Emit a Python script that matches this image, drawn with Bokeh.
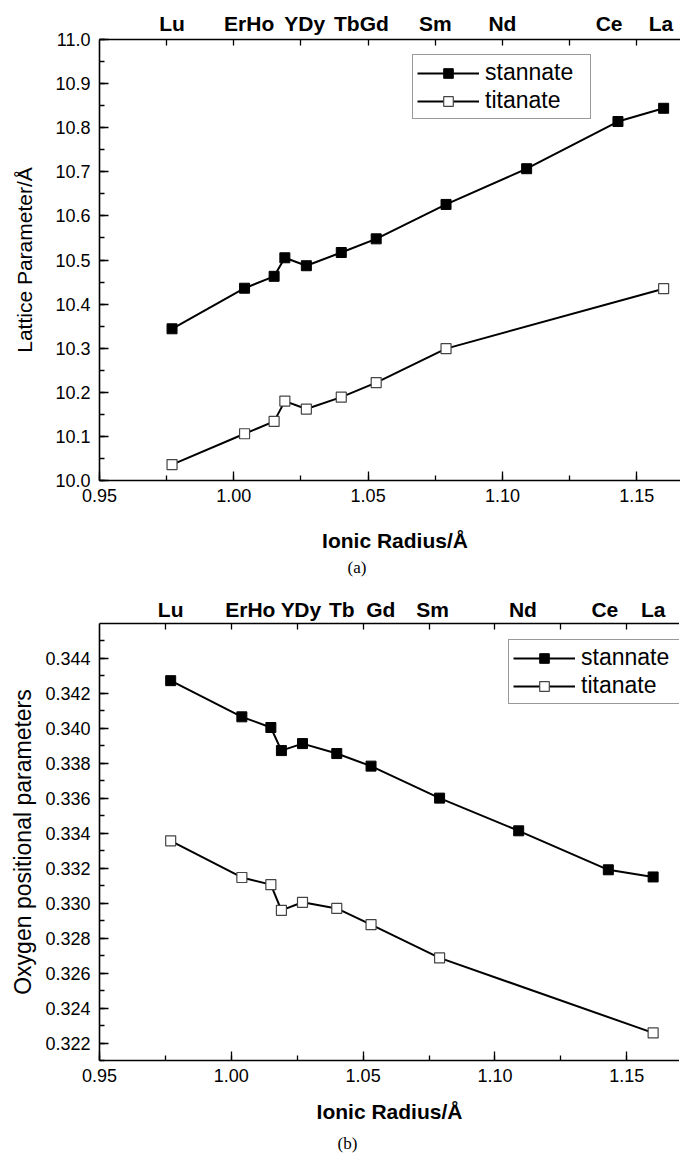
from bokeh.plotting import figure
from bokeh.models import (Range1d, LinearAxis, SingleIntervalTicker, FixedTicker,
                          PrintfTickFormatter, Legend, LegendItem, Title)
from bokeh.layouts import column
from bokeh.embed import file_html
from bokeh.resources import INLINE

# ---------------- data ----------------
elements = ["Lu", "Er", "Ho", "Y", "Dy", "Tb", "Gd", "Sm", "Nd", "Ce", "La"]
stannate_radius = [0.977, 1.004, 1.015, 1.019, 1.027, 1.040, 1.053, 1.079, 1.109, 1.143, 1.160]
titanate_elements = ["Lu", "Er", "Ho", "Y", "Dy", "Tb", "Gd", "Sm", "La"]
titanate_radius = [0.977, 1.004, 1.015, 1.019, 1.027, 1.040, 1.053, 1.079, 1.160]

# (a) lattice parameter (Å)
stannate_lattice = [10.344, 10.436, 10.463, 10.505, 10.487, 10.517, 10.548, 10.626, 10.707, 10.814, 10.844]
titanate_lattice = [10.036, 10.106, 10.134, 10.180, 10.162, 10.189, 10.222, 10.299, 10.435]

# (b) oxygen positional parameter
stannate_oxygen = [0.34273, 0.34066, 0.34005, 0.33873, 0.33913, 0.33856, 0.33784, 0.33601, 0.33414, 0.33191, 0.33150]
titanate_oxygen = [0.33357, 0.33147, 0.33106, 0.32959, 0.33005, 0.32970, 0.32877, 0.32687, 0.32258]

# top element labels (text and the radius each is centred on)
top_labels_a = ["Lu", "ErHo", "YDy", "TbGd", "Sm", "Nd", "Ce", "La"]
top_label_pos_a = [0.977, 1.0057, 1.0264, 1.0475, 1.075, 1.100, 1.1397, 1.159]
top_labels_b = ["Lu", "ErHo", "Y", "Dy", "Tb", "Gd", "Sm", "Nd", "Ce", "La"]
top_label_pos_b = [0.977, 1.0072, 1.0214, 1.0290, 1.0419, 1.0567, 1.0763, 1.1106, 1.1417, 1.160]

series_names = ["stannate", "titanate"]

FONT = "Liberation Sans"


def build(ylim, y_interval, y_fmt, ylabel, ylabel_size, ys_s, ys_t, top_labels, top_pos,
          frame_w, frame_h, b_left, b_top, b_bottom, top_standoff, xlabel_standoff,
          ylabel_standoff, legend_loc, label_w, caption, cap_offset, cap_standoff):
    p = figure(x_range=Range1d(0.95, 1.17), y_range=Range1d(*ylim),
               frame_width=frame_w, frame_height=frame_h,
               min_border_left=b_left, min_border_right=0,
               min_border_top=b_top, min_border_bottom=b_bottom,
               output_backend="svg", toolbar_location=None)
    p.outline_line_color = None
    p.xgrid.visible = False
    p.ygrid.visible = False
    p.background_fill_color = "white"
    p.border_fill_color = "white"

    # bottom axis
    xa = p.xaxis[0]
    xa.ticker = SingleIntervalTicker(interval=0.05, num_minor_ticks=2)
    xa.formatter = PrintfTickFormatter(format="%.2f")
    xa.axis_label = "Ionic Radius/Å"
    xa.axis_label_text_font = FONT
    xa.axis_label_text_font_style = "bold"
    xa.axis_label_text_font_size = "21px"
    xa.axis_label_standoff = xlabel_standoff
    xa.major_label_standoff = 8

    # left axis
    ya = p.yaxis[0]
    ya.ticker = SingleIntervalTicker(interval=y_interval, num_minor_ticks=2)
    ya.formatter = PrintfTickFormatter(format=y_fmt)
    ya.axis_label = ylabel
    ya.axis_label_text_font = FONT
    ya.axis_label_text_font_style = "normal"
    ya.axis_label_text_font_size = ylabel_size
    ya.axis_label_standoff = ylabel_standoff
    ya.major_label_standoff = 9

    for ax in (xa, ya):
        ax.axis_line_color = "black"
        ax.axis_line_width = 1.6
        ax.major_tick_line_color = "black"
        ax.minor_tick_line_color = "black"
        ax.major_tick_line_width = 1.3
        ax.minor_tick_line_width = 1.3
        ax.major_tick_in = 9
        ax.major_tick_out = 0
        ax.minor_tick_in = 5
        ax.minor_tick_out = 0
        ax.major_label_text_font = FONT
        ax.major_label_text_font_size = "18px"
        ax.major_label_text_color = "black"
        ax.axis_label_text_color = "black"

    # top axis with element labels
    top_ticks = [0.95 + 0.025 * i for i in range(1, 9)]
    top = LinearAxis(ticker=FixedTicker(ticks=top_pos, minor_ticks=top_ticks),
                     major_label_overrides={v: t for v, t in zip(top_pos, top_labels)})
    top.axis_line_color = "black"
    top.axis_line_width = 1.6
    top.major_tick_line_color = None
    top.major_tick_in = 0
    top.major_tick_out = 0
    top.minor_tick_line_color = "black"
    top.minor_tick_line_width = 1.3
    top.minor_tick_in = 6
    top.minor_tick_out = 0
    top.major_label_standoff = top_standoff
    top.major_label_text_font = FONT
    top.major_label_text_font_style = "bold"
    top.major_label_text_font_size = "21px"
    top.major_label_text_color = "black"
    p.add_layout(top, "above")

    # series
    l1 = p.line(stannate_radius, ys_s, line_color="black", line_width=2)
    s1 = p.scatter(stannate_radius, ys_s, marker="square", size=10,
                   fill_color="black", line_color="black", line_width=1)
    l2 = p.line(titanate_radius, ys_t, line_color="black", line_width=2)
    s2 = p.scatter(titanate_radius, ys_t, marker="square", size=10,
                   fill_color="white", line_color="#444444", line_width=1.2)

    leg = Legend(items=[LegendItem(label=series_names[0], renderers=[l1, s1]),
                        LegendItem(label=series_names[1], renderers=[l2, s2])],
                 location=legend_loc)
    leg.label_text_font = FONT
    leg.label_text_font_size = "23px"
    leg.label_text_color = "black"
    leg.glyph_width = 62
    leg.glyph_height = 24
    leg.label_height = 24
    leg.label_width = label_w
    leg.label_standoff = 6
    leg.spacing = 1
    leg.padding = 4
    leg.margin = 0
    leg.border_line_color = "#333333"
    leg.border_line_width = 1
    leg.background_fill_alpha = 1
    p.add_layout(leg)

    cap = Title(text=caption, align="left", offset=cap_offset, standoff=cap_standoff,
                text_font="Liberation Serif", text_font_size="17px",
                text_font_style="normal", text_color="black")
    p.add_layout(cap, "below")
    return p


pa = build((10.0, 11.0), 0.1, "%.1f", "Lattice Parameter/Å", "21px",
           stannate_lattice, titanate_lattice, top_labels_a, top_label_pos_a,
           frame_w=591, frame_h=441, b_left=89, b_top=39, b_bottom=104,
           top_standoff=5, xlabel_standoff=24, ylabel_standoff=16,
           legend_loc=(323, 361), label_w=101, caption="(a)", cap_offset=248, cap_standoff=2)

pb = build((0.321, 0.346), 0.002, "%.3f", "Oxygen positional parameters", "23px",
           stannate_oxygen, titanate_oxygen, top_labels_b, top_label_pos_b,
           frame_w=580, frame_h=437, b_left=99, b_top=39, b_bottom=95,
           top_standoff=3, xlabel_standoff=15, ylabel_standoff=6,
           legend_loc=(409, 356), label_w=101, caption="(b)", cap_offset=238, cap_standoff=12)

layout = column(pa, pb)
open("out.html", "w").write(file_html(layout, INLINE))
